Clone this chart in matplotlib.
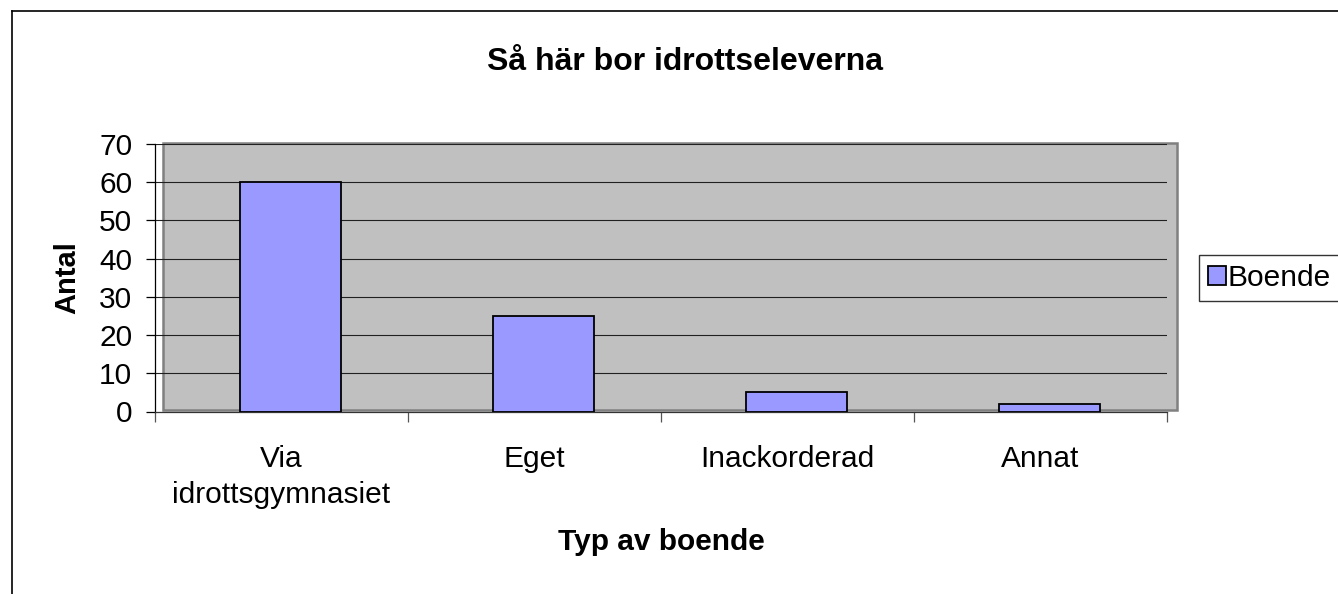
import matplotlib
matplotlib.use('Agg')
import matplotlib.pyplot as plt
from matplotlib.patches import Rectangle
from matplotlib.lines import Line2D
import numpy as np

plt.rcParams['font.family'] = ['Liberation Sans', 'DejaVu Sans']

# data
categories = ['Via\nidrottsgymnasiet', 'Eget', 'Inackorderad', 'Annat']
values = [60, 25, 5, 2]
series_name = 'Boende'
yticks = [0, 10, 20, 30, 40, 50, 60, 70]

W, H = 1338, 594
fig = plt.figure(figsize=(W / 100, H / 100), dpi=100)


def fx(px):
    return px / W


def fy(py):
    return 1 - py / H


# outer chart border (top and left visible only)
fig.add_artist(Line2D([fx(12), fx(12)], [fy(11), 0], color='black', lw=1.2, transform=fig.transFigure))
fig.add_artist(Line2D([fx(12), 1], [fy(11), fy(11)], color='black', lw=1.2, transform=fig.transFigure))

# gray plot area (drawn slightly offset, like the Excel render)
fig.add_artist(Rectangle((fx(163), fy(410)), fx(1177) - fx(163), fy(143) - fy(410),
                         transform=fig.transFigure, facecolor='#C0C0C0',
                         edgecolor='#808080', lw=1.8, zorder=0))

ax = fig.add_axes([fx(155), fy(411.5), fx(1167) - fx(155), fy(144) - fy(411.5)])
ax.set_facecolor('none')

x = np.arange(len(categories))
ax.bar(x + 0.035, values, width=0.4, color='#9999FF', edgecolor='black', lw=1.3,
       label=series_name, zorder=3)

ax.set_xlim(-0.5, len(categories) - 0.5)
ax.set_ylim(0, 70)
ax.set_yticks(yticks)
ax.tick_params(axis='y', labelsize=21.5, length=6.3, width=0.9, pad=10, color='black')
for v in yticks[1:]:
    ax.axhline(v, color='#202020', lw=0.8, zorder=1)

# category ticks at boundaries, labels in the middle
ax.set_xticks(np.arange(len(categories) + 1) - 0.5)
ax.set_xticklabels([])
ax.set_xticks(x, minor=True)
ax.set_xticklabels(categories, minor=True, fontsize=21.5, linespacing=1.35)
ax.tick_params(axis='x', which='major', length=7, width=0.9, color='#555555')
ax.tick_params(axis='x', which='minor', length=0, pad=24)

for s in ['top', 'right']:
    ax.spines[s].set_visible(False)
ax.spines['left'].set_color('black')
ax.spines['bottom'].set_color('#333333')
ax.spines['left'].set_linewidth(0.9)
ax.spines['bottom'].set_linewidth(0.9)

fig.text(fx(684.5), fy(62), 'Så här bor idrottseleverna', ha='center', va='center',
         fontsize=23, fontweight='bold')
fig.text(fx(661), fy(542), 'Typ av boende', ha='center', va='center',
         fontsize=21.5, fontweight='bold')
fig.text(fx(67.5), fy(277.5), 'Antal', ha='center', va='center', rotation=90,
         fontsize=21, fontweight='bold')

leg = ax.legend(loc='center left', bbox_to_anchor=(fx(1199), fy(278)),
                bbox_transform=fig.transFigure, fontsize=21.5, frameon=True,
                fancybox=False, edgecolor='black', handlelength=0.6,
                handleheight=0.6, handletextpad=0.05, borderpad=0.3,
                borderaxespad=0)
leg.get_frame().set_linewidth(1.0)

fig.savefig('out.png', dpi=100)
